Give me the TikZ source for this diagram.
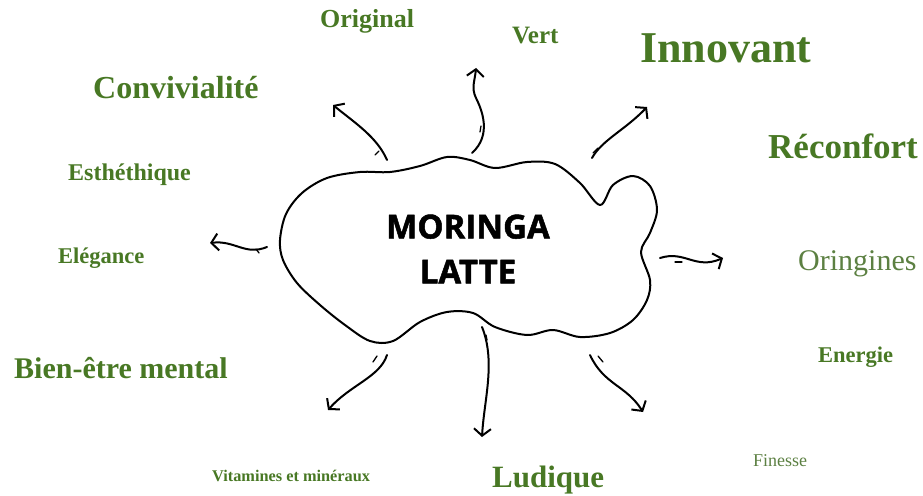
\documentclass[tikz,border=0pt]{standalone}
\usepackage{fontspec}
\setmainfont{Liberation Serif}
\newfontfamily\headfont[BoldFeatures={FakeBold=1.5}]{Open Sans}
\usetikzlibrary{arrows.meta}
\definecolor{leaf}{RGB}{72,120,36}
\definecolor{leaflight}{RGB}{92,128,66}

\begin{document}
\begin{tikzpicture}[
  x=1pt, y=-1pt,
  line cap=round,
  line join=round,
  sketch/.style={line width=2pt},
  branch/.style={sketch, -{Straight Barb[length=7pt,width=17pt,line width=2pt]}},
  tick/.style={line width=1.3pt},
  idea/.style={anchor=base west, inner sep=0pt, text=leaf, font=\bfseries},
  title/.style={inner sep=0pt, align=center, font=\headfont\bfseries\fontsize{33}{45}\selectfont}
]
  \useasboundingbox (0,0) rectangle (923,495);

  % Nuage central
  \draw[sketch] plot[smooth cycle, tension=0.55] coordinates {
    (280,240) (286,214) (302,193) (327,178) (360,172) (390,172) (420,166)
    (447,157) (470,160) (495,168) (527,162) (555,164) (580,183) (600,205)
    (613,185) (633,176) (650,186) (657,210) (650,233) (641,252) (650,280)
    (647,300) (633,320) (610,333) (580,337) (553,330) (527,335) (495,327)
    (473,313) (447,312) (420,322) (393,341) (370,341) (345,325) (320,305)
    (297,283) (283,260)};

  % Titre
  \node[title] (centre) at (468,249) {MORINGA\\LATTE};

  % Départs et pointes des flèches
  \coordinate (a1) at (387,160);  \coordinate (b1) at (333,105);
  \coordinate (a2) at (472,153);  \coordinate (b2) at (476,68);
  \coordinate (a3) at (592,158);  \coordinate (b3) at (647,107);
  \coordinate (a4) at (660,258);  \coordinate (b4) at (723,258);
  \coordinate (a5) at (267,247);  \coordinate (b5) at (210,243);
  \coordinate (a6) at (387,355);  \coordinate (b6) at (328,410);
  \coordinate (a7) at (482,327);  \coordinate (b7) at (482,437);
  \coordinate (a8) at (590,355);  \coordinate (b8) at (643,412);

  % Flèches
  \draw[branch] (a1) .. controls (377,137) and (355,123) .. (b1);
  \draw[branch] (a2) .. controls (492,135) and (482,110) .. (476,98)
                     .. controls (471,88) and (475,80) .. (b2);
  \draw[branch] (a3) .. controls (602,140) and (625,130) .. (b3);
  \draw[branch] (a4) .. controls (685,250) and (695,270) .. (b4);
  \draw[branch] (a5) .. controls (245,256) and (235,240) .. (b5);
  \draw[branch] (a6) .. controls (380,377) and (350,385) .. (b6);
  \draw[branch] (a7) .. controls (496,362) and (484,400) .. (b7);
  \draw[branch] (a8) .. controls (604,385) and (626,385) .. (b8);

  % Petits traits
  \draw[tick] (375,155) -- (379,151);
  \draw[tick] (480,132) -- (481,126);
  \draw[tick] (593,153) -- (598,148);
  \draw[tick] (675,262) -- (682,262);
  \draw[tick] (256,249) -- (259,253);
  \draw[tick] (373,362) -- (377,356);
  \draw[tick] (486,335) -- (487,340);
  \draw[tick] (598,356) -- (603,362);

  % Mots
  \node[idea, font=\bfseries\fontsize{26}{26}\selectfont] (original) at (320,28) {Original};
  \node[idea, font=\bfseries\fontsize{25}{25}\selectfont] (vert) at (512,44) {Vert};
  \node[idea, font=\bfseries\fontsize{44}{44}\selectfont] (innovant) at (640,63) {Innovant};
  \node[idea, font=\bfseries\fontsize{32}{32}\selectfont] (convivialite) at (93,98) {Convivialité};
  \node[idea, font=\bfseries\fontsize{35}{35}\selectfont] (reconfort) at (768,158) {Réconfort};
  \node[idea, font=\bfseries\fontsize{24}{24}\selectfont] (esthetique) at (68,180) {Esthéthique};
  \node[idea, font=\bfseries\fontsize{22.5}{22.5}\selectfont] (elegance) at (58,263) {Elégance};
  \node[idea, text=leaflight, font=\fontsize{30}{30}\selectfont] (origines) at (798,270) {Oringines};
  \node[idea, font=\bfseries\fontsize{30}{30}\selectfont] (bienetre) at (14,378) {Bien-être mental};
  \node[idea, font=\bfseries\fontsize{22.5}{22.5}\selectfont] (energie) at (818,362) {Energie};
  \node[idea, font=\bfseries\fontsize{16.3}{16.3}\selectfont] (vitamines) at (212,481) {Vitamines et minéraux};
  \node[idea, font=\bfseries\fontsize{31}{31}\selectfont] (ludique) at (492,487) {Ludique};
  \node[idea, text=leaflight, font=\fontsize{18}{18}\selectfont] (finesse) at (753,466) {Finesse};
\end{tikzpicture}
\end{document}
